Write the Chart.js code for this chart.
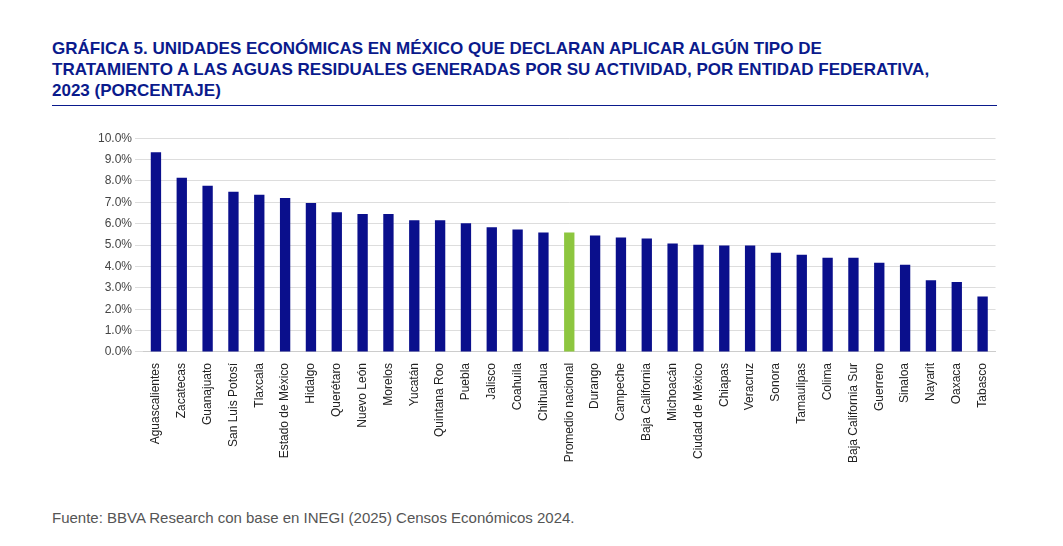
<!DOCTYPE html>
<html><head><meta charset="utf-8">
<script src="https://cdn.jsdelivr.net/npm/chart.js@4"></script>
<style>
body{margin:0;background:#fff;font-family:Arial,"Liberation Sans",sans-serif;}
#title{position:absolute;left:52px;top:38px;width:945px;color:#0a1a8c;font-weight:bold;font-size:17px;line-height:21px;padding-bottom:4px;border-bottom:1.5px solid #0a1a8c;}
#wrap{position:absolute;left:95px;top:128px;width:905px;height:338px;}
#src{position:absolute;left:52px;top:509px;color:#555;font-size:15px;}
</style></head><body>
<div id="title">GRÁFICA 5. UNIDADES ECONÓMICAS EN MÉXICO QUE DECLARAN APLICAR ALGÚN TIPO DE<br>TRATAMIENTO A LAS AGUAS RESIDUALES GENERADAS POR SU ACTIVIDAD, POR ENTIDAD FEDERATIVA,<br>2023 (PORCENTAJE)</div>
<div id="wrap"><canvas id="c"></canvas></div>
<div id="src">Fuente: BBVA Research con base en INEGI (2025) Censos Económicos 2024.</div>
<script>
const states = ['Aguascalientes','Zacatecas','Guanajuato','San Luis Potosí','Tlaxcala','Estado de México','Hidalgo','Querétaro','Nuevo León','Morelos','Yucatán','Quintana Roo','Puebla','Jalisco','Coahuila','Chihuahua','Promedio nacional','Durango','Campeche','Baja California','Michoacán','Ciudad de México','Chiapas','Veracruz','Sonora','Tamaulipas','Colima','Baja California Sur','Guerrero','Sinaloa','Nayarit','Oaxaca','Tabasco'];
const values = [9.34,8.15,7.77,7.49,7.35,7.2,6.97,6.54,6.45,6.45,6.16,6.16,6.02,5.83,5.73,5.59,5.59,5.45,5.36,5.31,5.07,5.02,4.98,4.98,4.64,4.55,4.41,4.41,4.17,4.08,3.36,3.27,2.6];
const colors = states.map(s => s === 'Promedio nacional' ? '#8dc63f' : '#0a0f8c');
new Chart(document.getElementById('c'), {
  type: 'bar',
  data: { labels: states, datasets: [{ data: values, backgroundColor: colors, barPercentage: 0.4, categoryPercentage: 1 }] },
  options: {
    responsive: true, maintainAspectRatio: false, animation: false,
    plugins: { legend: { display: false }, tooltip: { enabled: false } },
    layout: { padding: { top: 5, right: 0 } },
    scales: {
      x: { grid: { display: false }, border: { color: '#ccc' },
           ticks: { color: '#222', font: { size: 12, family: 'Arial' }, maxRotation: 90, minRotation: 90, autoSkip: false } },
      y: { min: 0, max: 10, border: { display: false }, grid: { color: '#ddd' },
           ticks: { stepSize: 1, color: '#444', font: { size: 12, family: 'Arial' }, callback: v => v.toFixed(1) + '%' } }
    }
  }
});
</script></body></html>
